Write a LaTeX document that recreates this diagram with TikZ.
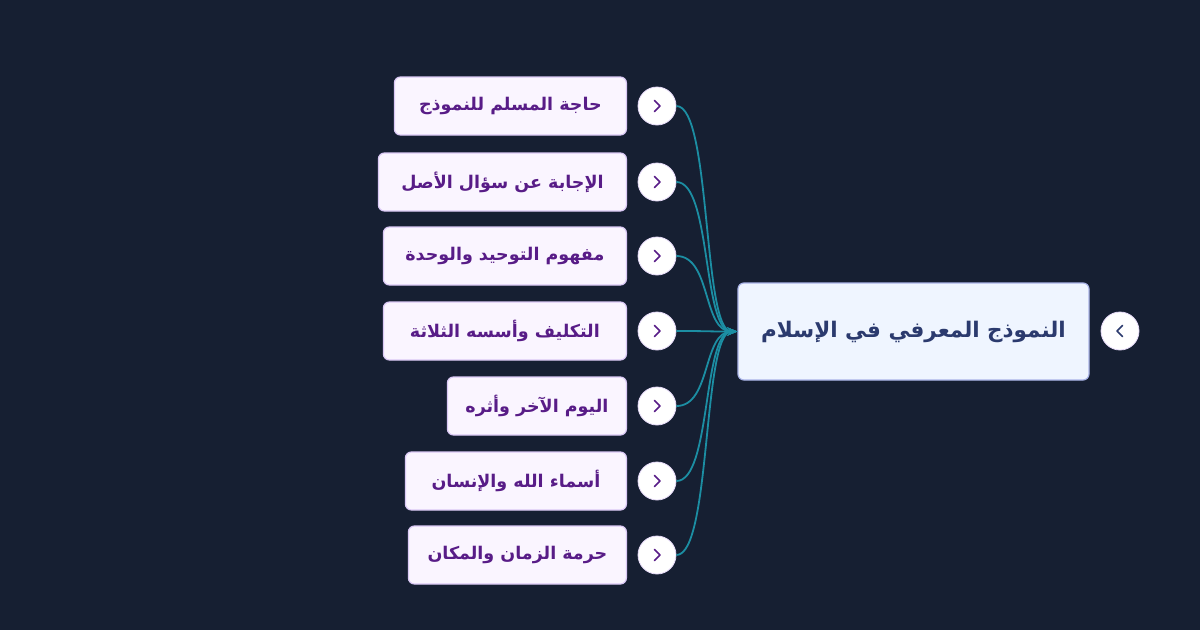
\documentclass[tikz,border=0pt]{standalone}
\usepackage{fontspec}
\newfontfamily\arabicfont[Script=Arabic]{DejaVu Sans}
\TeXXeTstate=1
\usetikzlibrary{arrows.meta}

\definecolor{fondo}{RGB}{22,31,50}
\definecolor{rellenoraiz}{RGB}{239,245,255}
\definecolor{borderaiz}{RGB}{170,180,232}
\definecolor{textoraiz}{RGB}{43,58,110}
\definecolor{rellenohoja}{RGB}{250,245,255}
\definecolor{bordehoja}{RGB}{218,200,245}
\definecolor{textohoja}{RGB}{88,28,135}
\definecolor{rama}{RGB}{28,142,163}

\begin{document}
\begin{tikzpicture}[x=1pt,y=-1pt,
  hoja/.style={draw=bordehoja, fill=rellenohoja, line width=1.2pt, rounded corners=6pt,
    minimum height=58pt, inner sep=0pt, anchor=east, text=textohoja,
    font={\arabicfont\fontsize{17.5}{20}\selectfont\bfseries}},
  raiz/.style={draw=borderaiz, fill=rellenoraiz, line width=1.2pt, rounded corners=6pt,
    minimum width=351pt, minimum height=97pt, inner sep=0pt, text=textoraiz,
    font={\arabicfont\fontsize{21.5}{26}\selectfont\bfseries}},
  boton/.style={circle, draw=bordehoja!70, fill=white, line width=0.8pt, minimum size=38pt, inner sep=0pt},
  chevron/.style={line width=1.5pt, line cap=round, line join=round},
  conector/.style={draw=rama, line width=1.8pt, -{Stealth[length=10pt,width=8pt]}}]

% Fondo
\fill[fondo] (0,0) rectangle (1200,630);

% Nodo central
\node[raiz] (raiz) at (913.5,331.5) {\beginR النموذج المعرفي في الإسلام\endR};
\node[boton] (braiz) at (1120,331) {};
\draw[chevron, textoraiz] (braiz.center) ++(2.5,-5.5) -- ++(-5.5,5.5) -- ++(5.5,5.5);

% Ramas
\foreach \y/\w/\t [count=\i] in {106/232/حاجة المسلم للنموذج,
    182/248/الإجابة عن سؤال الأصل,
    256/243/مفهوم التوحيد والوحدة,
    331/243/التكليف وأسسه الثلاثة,
    406/179/اليوم الآخر وأثره,
    481/221/أسماء الله والإنسان,
    555/218/حرمة الزمان والمكان}{
  \node[hoja, minimum width=\w pt] (h\i) at (627,\y) {\beginR\t\endR};
  \node[boton] (b\i) at (657,\y) {};
  \draw[chevron, textohoja] (b\i.center) ++(-2.5,-5.5) -- ++(5.5,5.5) -- ++(-5.5,5.5);
  \draw[conector] (b\i.east) .. controls +(35,0) and +(-35,0) .. (raiz.west);
}

\end{tikzpicture}
\end{document}
